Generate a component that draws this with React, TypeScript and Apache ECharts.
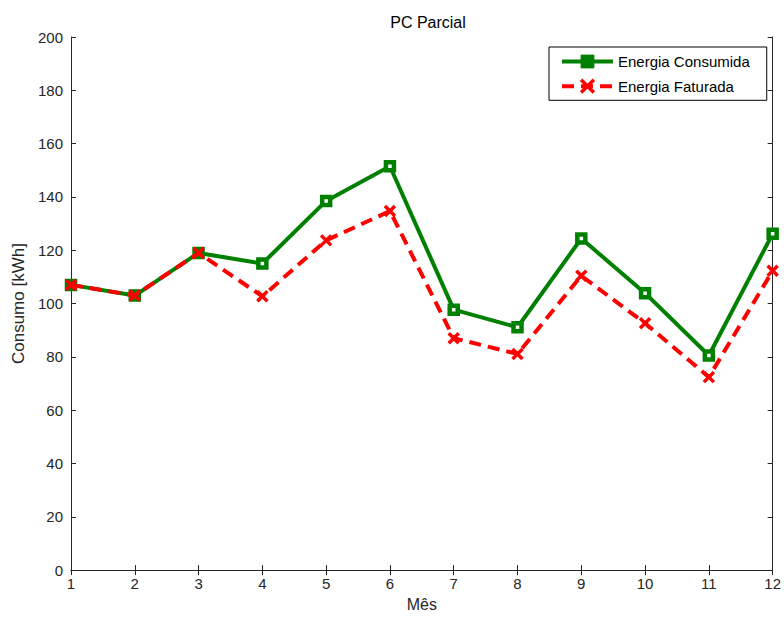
import React, { useEffect, useRef } from "react";
import * as echarts from "echarts";

const months = [1, 2, 3, 4, 5, 6, 7, 8, 9, 10, 11, 12];
const consumida = [107, 103, 119, 115, 138.5, 151.5, 97.7, 91.1, 124.4, 103.9, 80.5, 126.2];
const faturada = [107, 103, 119, 102.7, 123.7, 134.7, 87, 81.1, 110.4, 92.6, 72.4, 112.3];
const seriesNames = ["Energia Consumida", "Energia Faturada"];
const chartTitle = "PC Parcial";
const xName = "Mês";
const yName = "Consumo [kWh]";

const FONT = "Liberation Sans, Arial, sans-serif";
const AX = "#262626";
const GREEN = "#008000";
const RED = "#ff0000";

export default function App() {
  const ref = useRef<HTMLDivElement>(null);
  useEffect(() => {
    if (!ref.current) return;
    const chart = echarts.init(ref.current, undefined, { renderer: "svg" });
    const axisCommon = {
      axisLine: { show: true, lineStyle: { color: AX, width: 1 } },
      axisTick: { show: true, inside: true, length: 5, lineStyle: { color: AX } },
      splitLine: { show: false },
    };
    chart.setOption({
      animation: false,
      backgroundColor: "#fff",
      textStyle: { fontFamily: FONT },
      title: {
        text: chartTitle,
        left: 423,
        textAlign: "center",
        top: 9,
        textStyle: { fontSize: 16, fontWeight: "normal", color: "#000", fontFamily: FONT },
      },
      grid: { left: 71, right: 8, top: 37, bottom: 45, containLabel: false },
      legend: {
        left: 549,
        top: 47,
        orient: "vertical",
        itemWidth: 51,
        itemHeight: 16,
        itemGap: 9,
        padding: [7, 17, 6, 11],
        borderColor: "#000",
        borderWidth: 1,
        backgroundColor: "#fff",
        textStyle: { fontSize: 15, color: "#000", fontFamily: FONT },
        data: [
          {
            name: seriesNames[0],
            itemStyle: { color: GREEN, borderColor: GREEN, borderWidth: 1 },
            lineStyle: { color: GREEN, width: 4 },
          },
          {
            name: seriesNames[1],
            itemStyle: { color: RED, borderColor: RED, borderWidth: 3.5 },
            lineStyle: { color: RED, width: 4, type: [12, 7] },
          },
        ],
      },
      xAxis: [
        {
          type: "value",
          min: 1,
          max: 12,
          interval: 1,
          name: xName,
          nameLocation: "middle",
          nameGap: 22,
          nameTextStyle: { fontSize: 16, color: AX, fontFamily: FONT },
          axisLabel: { fontSize: 15, color: AX, margin: 6, fontFamily: FONT },
          ...axisCommon,
        },
        {
          type: "value",
          position: "top",
          min: 1,
          max: 12,
          interval: 1,
          axisLabel: { show: false },
          ...axisCommon,
        },
      ],
      yAxis: [
        {
          type: "value",
          min: 0,
          max: 200,
          interval: 20,
          name: yName,
          nameLocation: "middle",
          nameGap: 40,
          nameTextStyle: { fontSize: 17, color: AX, fontFamily: FONT },
          axisLabel: { fontSize: 15, color: AX, margin: 8, fontFamily: FONT },
          ...axisCommon,
        },
        {
          type: "value",
          position: "right",
          min: 0,
          max: 200,
          interval: 20,
          axisLabel: { show: false },
          ...axisCommon,
        },
      ],
      series: [
        {
          name: seriesNames[0],
          type: "line",
          data: months.map((m, i) => [m, consumida[i]]),
          lineStyle: { color: GREEN, width: 4 },
          symbol: "rect",
          symbolSize: 8,
          itemStyle: { color: "#fff", borderColor: GREEN, borderWidth: 4.5 },
          z: 2,
        },
        {
          name: seriesNames[1],
          type: "line",
          data: months.map((m, i) => [m, faturada[i]]),
          lineStyle: { color: RED, width: 4, type: [12, 7] },
          symbol: "path://M0,0L10,10M10,0L0,10",
          symbolSize: 10,
          itemStyle: { color: RED, borderColor: RED, borderWidth: 3.5 },
          z: 3,
        },
      ],
    });
    return () => chart.dispose();
  }, []);
  return (
    <div
      ref={ref}
      style={{ position: "absolute", left: 0, top: 0, width: 784, height: 617 }}
    />
  );
}
